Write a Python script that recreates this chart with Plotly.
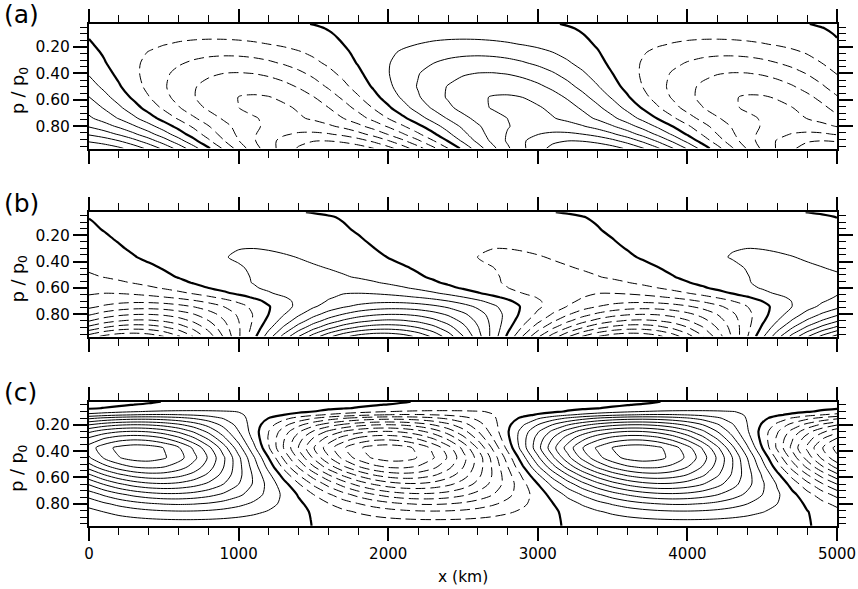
import numpy as np
import plotly.graph_objects as go

W, H = 858, 589
ML, MR = 89, 21

# ---------------- data ----------------
X_KM = np.arange(0, 5001, 100)          # model grid along x (km)
WAVELENGTH_KM = 3340.0

# panel (a): zero line (+ to - crossing, km) and amplitude (contour units) per level
P_A    = [0.025, 0.06, 0.10, 0.133, 0.18, 0.24, 0.32, 0.40, 0.50, 0.58, 0.66, 0.74, 0.80, 0.86, 0.91, 0.967]
ZERO_A = [-192, -92, -38, -7, 30, 74, 115, 160, 215, 274, 350, 455, 560, 650, 725, 809]
AMP_A  = [0.5, 0.7, 0.85, 0.95, 1.25, 1.8, 2.4, 3.05, 3.7, 4.1, 4.25, 4.2, 4.5, 5.2, 6.0, 6.8]

# panel (b): zero line (- to + crossing, km) and amplitude
P_B    = [0.025, 0.063, 0.10, 0.16, 0.24, 0.30, 0.366, 0.45, 0.517, 0.56, 0.60, 0.64, 0.67, 0.70, 0.74, 0.80, 0.85, 0.90, 0.967]
ZERO_B = [-220, -20, 30, 85, 175, 240, 320, 478, 580, 680, 800, 950, 1076, 1160, 1210, 1200, 1176, 1150, 1118]
AMP_B  = [0.3, 0.45, 0.6, 0.75, 0.9, 1.0, 1.1, 1.15, 1.25, 1.45, 1.7, 2.0, 2.3, 2.8, 3.6, 5.0, 6.2, 7.6, 9.8]

# panel (c): zero line (+ to - crossing, km) and amplitude
P_C    = [0.025, 0.05, 0.075, 0.10, 0.125, 0.15, 0.20, 0.25, 0.30, 0.375, 0.45, 0.52, 0.58, 0.65, 0.73, 0.80, 0.86, 0.92, 0.967]
ZERO_C = [2150, 1950, 1745, 1500, 1300, 1200, 1150, 1135, 1140, 1160, 1200, 1235, 1277, 1330, 1390, 1435, 1470, 1482, 1488]
AMP_C  = [0.6, 0.4, 0.5, 1.2, 2.1, 3.6, 6.0, 8.0, 9.6, 11.6, 11.5, 10.2, 8.7, 6.9, 4.8, 3.1, 1.9, 1.0, 0.6]

PANEL_LABELS = ["(a)", "(b)", "(c)"]
Y_TITLE = "p / p<sub>0</sub>"
X_TITLE = "x (km)"
X_TICK_STEP, X_MINOR_STEP = 1000, 200
Y_TICK_STEP, Y_MINOR_STEP = 0.2, 0.05
P_RANGE = [0.968, 0.024]


def field(zero_x, amp, sign):
    a = np.asarray(amp, float)[:, None]
    x0 = np.asarray(zero_x, float)[:, None]
    k = 2 * np.pi / WAVELENGTH_KM
    return sign * a * np.sin(k * (X_KM[None, :] - x0))


panels = [
    (P_A, field(ZERO_A, AMP_A, -1)),
    (P_B, field(ZERO_B, AMP_B, +1)),
    (P_C, field(ZERO_C, AMP_C, -1)),
]

# pixel rows of panel frames
FRAMES = [(23.7, 148.5), (212.0, 336.5), (401.5, 526.0)]

fig = go.Figure()
for i, (p, Z) in enumerate(panels):
    sfx = "" if i == 0 else str(i + 1)
    common = dict(x=X_KM, y=p, z=Z, showscale=False, hoverinfo="skip",
                  autocontour=False, xaxis="x" + sfx, yaxis="y" + sfx)
    fig.add_trace(go.Contour(**common,
                             contours=dict(start=1, end=30, size=1, coloring="none"),
                             line=dict(color="black", width=1, smoothing=0.8)))
    fig.add_trace(go.Contour(**common,
                             contours=dict(start=-30, end=-1, size=1, coloring="none"),
                             line=dict(color="black", width=1, dash="10px,5px", smoothing=0.8)))
    fig.add_trace(go.Contour(**common,
                             contours=dict(start=0, end=0, size=1, coloring="none"),
                             line=dict(color="black", width=2.2, smoothing=0.8)))

FONT = "DejaVu Sans"
fig.update_layout(width=W, height=H, margin=dict(l=ML, r=MR, t=0, b=0),
                  paper_bgcolor="white", plot_bgcolor="white", showlegend=False,
                  font=dict(family=FONT, color="black", size=15))

for i, (top, bot) in enumerate(FRAMES):
    r = i + 1
    fig.update_layout({
        ("xaxis" if r == 1 else f"xaxis{r}"): dict(
            domain=[0, 1], range=[0, 5000], anchor=("y" if r == 1 else f"y{r}"),
            showline=True, linewidth=2, linecolor="black", mirror="ticks",
            ticks="outside", ticklen=13, tickwidth=1.5, tickcolor="black",
            tickmode="linear", tick0=0, dtick=X_TICK_STEP,
            minor=dict(ticks="outside", ticklen=7, tickwidth=1.2, tickcolor="black",
                       tickmode="linear", tick0=0, dtick=X_MINOR_STEP, showgrid=False),
            showgrid=False, zeroline=False, showticklabels=(r == 3),
            tickfont=dict(size=15, family=FONT, color="black")),
        ("yaxis" if r == 1 else f"yaxis{r}"): dict(
            domain=[1 - bot / H, 1 - top / H], range=P_RANGE, anchor=("x" if r == 1 else f"x{r}"),
            showline=True, linewidth=2, linecolor="black", mirror="ticks",
            ticks="outside", ticklen=14, tickwidth=1.5, tickcolor="black",
            tickmode="linear", tick0=0.2, dtick=Y_TICK_STEP, tickformat=".2f",
            minor=dict(ticks="outside", ticklen=7, tickwidth=1.2, tickcolor="black",
                       tickmode="linear", tick0=0, dtick=Y_MINOR_STEP, showgrid=False),
            showgrid=False, zeroline=False,
            tickfont=dict(size=15.5, family=FONT, color="black")),
    })


def px_x(px):
    return (px - ML) / (W - ML - MR)


ann = []
for i, (top, bot) in enumerate(FRAMES):
    ann.append(dict(text=PANEL_LABELS[i], x=px_x(2), y=1 - (top - 9) / H, xref="paper", yref="paper",
                    xanchor="left", yanchor="middle", showarrow=False,
                    font=dict(size=25, family=FONT)))
    ann.append(dict(text=Y_TITLE, x=px_x(19), y=1 - ((top + bot) / 2 + 5) / H,
                    xref="paper", yref="paper", xanchor="center", yanchor="middle",
                    textangle=-90, showarrow=False, font=dict(size=17.5, family=FONT)))
ann.append(dict(text=X_TITLE, x=px_x(463), y=1 - 577 / H, xref="paper", yref="paper",
                xanchor="center", yanchor="middle", showarrow=False,
                font=dict(size=15.5, family=FONT)))
fig.update_layout(annotations=ann)

fig.write_html("out.html")
